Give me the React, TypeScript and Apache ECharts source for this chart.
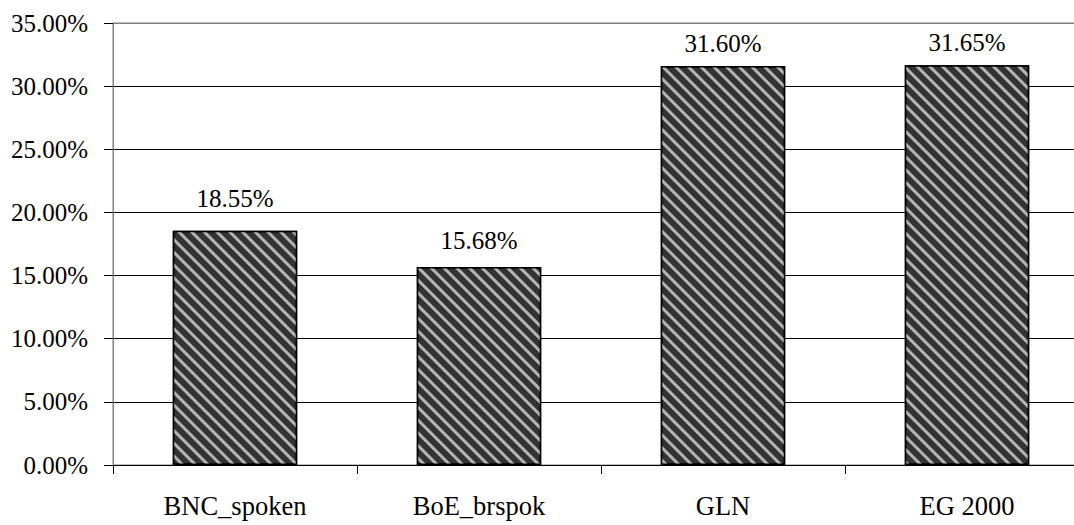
import React, { useEffect, useRef } from "react";
import * as echarts from "echarts";

const categories = ["BNC_spoken", "BoE_brspok", "GLN", "EG 2000"];
const values = [18.55, 15.68, 31.6, 31.65];
const yTicks = { min: 0, max: 35, interval: 5 };
// label gap above each bar (style only)
const labelGaps = [20, 14, 10, 10];

export default function App() {
  const ref = useRef<HTMLDivElement>(null);
  useEffect(() => {
    if (!ref.current) return;
    const chart = echarts.init(ref.current, null, { renderer: "svg" });
    const font = "Liberation Serif";
    chart.setOption({
      animation: false,
      textStyle: { fontFamily: font },
      grid: {
        left: 113,
        right: 0,
        top: 23,
        bottom: 60,
        show: true,
        borderColor: "#808080",
        borderWidth: 1,
      },
      xAxis: {
        type: "category",
        data: categories,
        axisLine: { lineStyle: { color: "#000", width: 1 } },
        axisTick: { show: true, length: 9, lineStyle: { color: "#000" } },
        axisLabel: { fontFamily: font, fontSize: 26.5, color: "#000", margin: 27 },
      },
      yAxis: {
        type: "value",
        min: yTicks.min,
        max: yTicks.max,
        interval: yTicks.interval,
        axisLine: { show: true, lineStyle: { color: "#808080", width: 1 } },
        axisTick: { show: true, length: 9, lineStyle: { color: "#000" } },
        splitLine: {
          lineStyle: {
            color: ["#000", "#000", "#000", "#000", "#000", "#000", "#000", "#808080"],
            width: 1,
          },
        },
        axisLabel: {
          fontFamily: font,
          fontSize: 25,
          color: "#000",
          margin: 25,
          formatter: (v: number) => v.toFixed(2) + "%",
        },
      },
      series: [
        {
          type: "bar",
          data: values.map((v, i) => ({ value: v, label: { distance: labelGaps[i] } })),
          barWidth: "51%",
          itemStyle: {
            color: "#333333",
            borderColor: "#000",
            borderWidth: 1.5,
            decal: {
              symbol: "rect",
              symbolSize: 1,
              dashArrayX: [1, 0],
              dashArrayY: [2.3, 5.5],
              rotation: Math.PI / 4,
              color: "#b4b4b4",
            },
          },
          label: {
            show: true,
            position: "top",
            distance: 20,
            fontFamily: font,
            fontSize: 25,
            color: "#000",
            formatter: (p: any) => p.value.toFixed(2) + "%",
          },
        },
      ],
    });
    return () => chart.dispose();
  }, []);
  return (
    <div
      ref={ref}
      style={{ position: "fixed", left: 0, top: 0, width: 1089, height: 525, background: "#fff" }}
    />
  );
}
